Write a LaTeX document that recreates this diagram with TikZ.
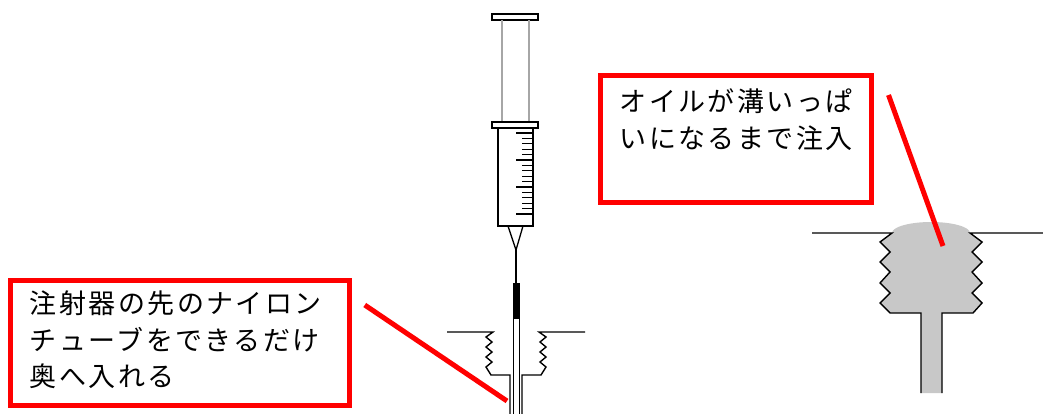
\documentclass[tikz,border=0pt]{standalone}
\usepackage{fontspec}
\newfontfamily\jp[LetterSpace=9]{Noto Sans CJK JP}
\usetikzlibrary{positioning}

\definecolor{oil}{HTML}{C8C8C8}
\tikzset{
  callout/.style={draw=red,line width=5pt,fill=white,inner sep=0pt},
  calltext/.style={font=\jp\fontsize{27}{36.5}\selectfont,align=left,inner sep=0pt,anchor=north west},
  leader/.style={red,line width=5pt},
  wall/.style={line width=1.4pt},
}

\begin{document}
\begin{tikzpicture}[x=1pt,y=-1pt]
\useasboundingbox (0,0) rectangle (1043,414);

% syringe
\draw[line width=1.5pt,fill=white] (492,14) rectangle (538,20);
\draw[gray!70,line width=1.3pt] (502,20) -- (502,122) (529,20) -- (529,122);
\draw[line width=1.5pt] (492,122) rectangle (538,128);
\draw[line width=1.5pt] (498,128) rectangle (533,226);
\foreach \i in {0,...,15} {
  \pgfmathsetmacro\len{mod(\i,5)==0 ? 17 : 11}
  \draw[line width=1.2pt] (533,133+5.4*\i) -- ++(-\len,0);
}
\draw[line width=1.3pt] (508,226) -- (516,250) -- (523,226);
\draw[line width=1.8pt] (516,250) -- (516,283);

% nylon tube
\draw[line width=1pt,fill=black] (513,283) rectangle (519,318);
\draw[line width=1pt] (513,318) -- (513,414) (519,318) -- (519,414);

% socket, left side
\draw[wall] (447,332) -- (493,332) -- (486,337) -- (492,342) -- (486,347)
  -- (492,352) -- (486,357) -- (492,362) -- (486,367) -- (491,375)
  -- (510,375) -- (510,414);
% socket, right side
\draw[wall] (585,332) -- (539,332) -- (546,337) -- (540,342) -- (546,347)
  -- (540,352) -- (546,357) -- (540,362) -- (546,367) -- (541,375)
  -- (522,375) -- (522,414);

% groove filled with oil
\fill[oil] (892,233) arc[start angle=180,end angle=360,x radius=39,y radius=11]
  -- (982,242) -- (972,252) -- (982,262) -- (972,272) -- (982,283)
  -- (972,293) -- (982,303) -- (973,313) -- (942,313) -- (942,393)
  -- (921,393) -- (921,313) -- (890,313) -- (880,303) -- (890,293)
  -- (880,283) -- (890,272) -- (880,262) -- (890,252) -- (880,242) -- cycle;
\draw[wall] (812,233) -- (892,233) -- (880,242) -- (890,252) -- (880,262)
  -- (890,272) -- (880,283) -- (890,293) -- (880,303) -- (890,313)
  -- (921,313) -- (921,393);
\draw[wall] (1043,233) -- (970,233) -- (982,242) -- (972,252) -- (982,262)
  -- (972,272) -- (982,283) -- (972,293) -- (982,303) -- (973,313)
  -- (942,313) -- (942,393);

% notes
\node[callout,minimum width=338.5pt,minimum height=124.5pt] (tubeNote) at (180,343) {};
\node[calltext] (tubeText) at ([shift={(21.5,12.5)}]tubeNote.north west)
  {注射器の先のナイロン\\チューブをできるだけ\\奥へ入れる};
\node[callout,minimum width=270.5pt,minimum height=126.5pt] (oilNote) at (735.75,138.75) {};
\node[calltext] (oilText) at ([shift={(21.5,15.5)}]oilNote.north west)
  {オイルが溝いっぱ\\いになるまで注入};

\coordinate (tubeTip) at (507,401);
\coordinate (oilTip) at (943,246);
\draw[leader] ([shift={(13,-38)}]tubeNote.east) -- (tubeTip);
\draw[leader] ([shift={(15,22)}]oilNote.north east) -- (oilTip);
\end{tikzpicture}
\end{document}
